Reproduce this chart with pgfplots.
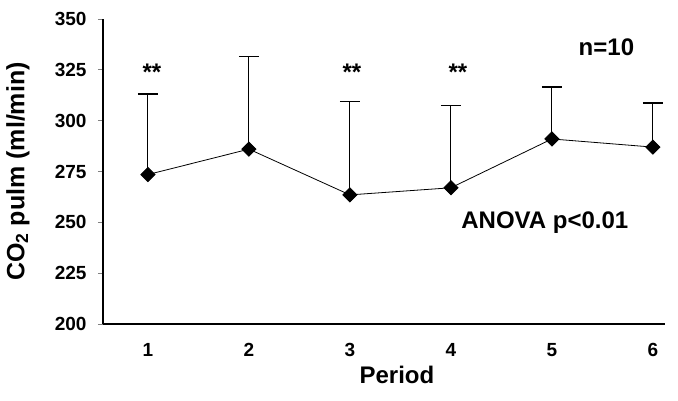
\documentclass[border=0pt]{standalone}
\usepackage{fontspec}
\setmainfont{Liberation Sans}
\usepackage{pgfplots}
\pgfplotsset{compat=1.18}
\begin{document}
\begin{tikzpicture}
\path[use as bounding box] (-103pt,-76pt) rectangle (575pt,324pt);
\begin{axis}[
  at={(0,0)}, anchor=south west,
  scale only axis,
  width=562pt, height=305pt,
  xmin=0.555, xmax=6.12,
  ymin=200, ymax=350,
  axis x line=bottom, axis y line=left,
  axis line style={line width=2.6pt, -},
  xtick={1,2,3,4,5,6},
  ytick={200,225,...,350},
  x tick style={draw=none},
  y tick style={line width=1pt},
  tick align=outside,
  major tick length=5pt,
  /pgf/number format/assume math mode=true,
  xticklabel style={font=\bfseries\fontsize{19}{19}\selectfont, anchor=base, yshift=-27pt},
  yticklabel style={font=\bfseries\fontsize{19}{19}\selectfont, xshift=-8pt},
  xlabel={Period},
  xlabel style={font=\bfseries\fontsize{24}{24}\selectfont, at={(axis description cs:0.523,0)}, anchor=center, yshift=-51pt},
  ylabel={CO\textsubscript{2} pulm (ml/min)},
  ylabel style={font=\bfseries\fontsize{25}{25}\selectfont, at={(axis description cs:0,0.5)}, anchor=center, yshift=85pt},
  clip=false,
]
\addplot[black, line width=0.8pt,
  mark=square*, mark size=5pt, mark options={rotate=45, fill=black},
  error bars/.cd, y dir=plus, y explicit,
  error bar style={line width=1pt, black},
  error mark options={rotate=90, mark size=10pt, line width=1.6pt, black}]
  coordinates {
  (1,273.5) +- (0,39.5)
  (2,286) +- (0,45.5)
  (3,263.5) +- (0,46)
  (4,267) +- (0,40.5)
  (5,291) +- (0,25.7)
  (6,287) +- (0,21.8)
  };
\node[font=\bfseries\fontsize{24}{24}\selectfont] at (axis cs:1.04,324) {**};
\node[font=\bfseries\fontsize{24}{24}\selectfont] at (axis cs:3.02,324) {**};
\node[font=\bfseries\fontsize{24}{24}\selectfont] at (axis cs:4.07,324) {**};
\node[font=\bfseries\fontsize{24}{24}\selectfont] at (axis cs:5.54,336.3) {n=10};
\node[font=\bfseries\fontsize{24}{24}\selectfont] at (axis cs:4.93,250) {ANOVA p<0.01};
\end{axis}
\end{tikzpicture}
\end{document}
